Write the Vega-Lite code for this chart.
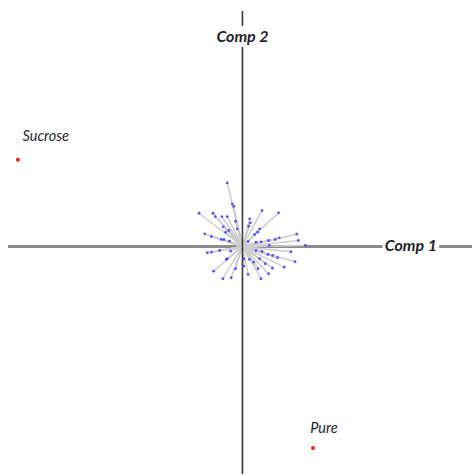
{
  "$schema": "https://vega.github.io/schema/vega-lite/v6.json",
  "width": 474,
  "height": 475,
  "autosize": {"type": "fit", "contains": "padding"},
  "padding": 0,
  "background": "white",
  "config": {"view": {"stroke": null}},
  "datasets": {
    "vars": [
      {"x": -0.153, "y": 0.637}, {"x": -0.103, "y": 0.427}, {"x": -0.087, "y": 0.403},
      {"x": -0.437, "y": 0.333}, {"x": -0.297, "y": 0.333}, {"x": -0.273, "y": 0.30},
      {"x": -0.207, "y": 0.30}, {"x": -0.153, "y": 0.30}, {"x": -0.07, "y": 0.253},
      {"x": -0.053, "y": 0.177}, {"x": -0.193, "y": 0.197}, {"x": -0.17, "y": 0.143},
      {"x": -0.137, "y": 0.16}, {"x": -0.38, "y": 0.127}, {"x": -0.313, "y": 0.10},
      {"x": -0.213, "y": 0.07}, {"x": -0.187, "y": 0.07}, {"x": -0.13, "y": 0.053},
      {"x": 0.073, "y": 0.277}, {"x": 0.08, "y": 0.237}, {"x": 0.197, "y": 0.36},
      {"x": 0.363, "y": 0.337}, {"x": 0.173, "y": 0.177}, {"x": 0.153, "y": 0.143},
      {"x": 0.123, "y": 0.12}, {"x": 0.063, "y": 0.203}, {"x": 0.547, "y": 0.123},
      {"x": 0.563, "y": 0.06}, {"x": 0.633, "y": 0.01}, {"x": 0.37, "y": 0.087},
      {"x": 0.33, "y": 0.07}, {"x": 0.263, "y": 0.06}, {"x": 0.187, "y": 0.047},
      {"x": 0.137, "y": 0.043}, {"x": 0.057, "y": 0.05}, {"x": 0.487, "y": -0.053},
      {"x": 0.27, "y": 0.01}, {"x": 0.137, "y": -0.04}, {"x": 0.197, "y": -0.05},
      {"x": 0.257, "y": -0.08}, {"x": 0.303, "y": -0.09}, {"x": 0.353, "y": -0.113},
      {"x": 0.53, "y": -0.153}, {"x": 0.42, "y": -0.207}, {"x": 0.303, "y": -0.217},
      {"x": 0.23, "y": -0.173}, {"x": 0.173, "y": -0.123}, {"x": 0.113, "y": -0.157},
      {"x": 0.157, "y": -0.223}, {"x": 0.263, "y": -0.273}, {"x": 0.187, "y": -0.323},
      {"x": 0.057, "y": -0.28}, {"x": 0.013, "y": -0.123}, {"x": 0.013, "y": -0.197},
      {"x": -0.07, "y": -0.223}, {"x": -0.113, "y": -0.313}, {"x": -0.197, "y": -0.323},
      {"x": -0.29, "y": -0.247}, {"x": -0.153, "y": -0.123}, {"x": -0.163, "y": -0.13},
      {"x": -0.353, "y": -0.063}, {"x": -0.31, "y": -0.057}, {"x": -0.23, "y": -0.04},
      {"x": -0.12, "y": -0.047}, {"x": 0.07, "y": -0.13}
    ],
    "samples": [
      {"name": "Sucrose", "x": -2.26, "y": 0.87, "lx": -1.98, "ly": 1.10},
      {"name": "Pure", "x": 0.71, "y": -2.02, "lx": 0.82, "ly": -1.83}
    ],
    "axes": [
      {"dir": "h", "x": -2.36, "y": 0, "x2": 1.41, "y2": 0},
      {"dir": "h", "x": 1.98, "y": 0, "x2": 2.31, "y2": 0},
      {"dir": "v", "x": 0, "y": 2.36, "x2": 0, "y2": 2.21},
      {"dir": "v", "x": 0, "y": 2.00, "x2": 0, "y2": -2.28}
    ],
    "axislabels": [
      {"label": "Comp 2", "x": 0, "y": 2.10},
      {"label": "Comp 1", "x": 1.695, "y": 0}
    ]
  },
  "encoding": {
    "x": {"type": "quantitative", "scale": {"domain": [-2.44, 2.30], "nice": false, "zero": false}, "axis": null},
    "y": {"type": "quantitative", "scale": {"domain": [-2.28, 2.47], "nice": false, "zero": false}, "axis": null}
  },
  "layer": [
    {
      "data": {"name": "axes"},
      "transform": [{"filter": "datum.dir === 'h'"}],
      "mark": {"type": "rule", "color": "#8c8c8c", "strokeWidth": 3},
      "encoding": {
        "x": {"field": "x", "type": "quantitative"},
        "y": {"field": "y", "type": "quantitative"},
        "x2": {"field": "x2"},
        "y2": {"field": "y2"}
      }
    },
    {
      "data": {"name": "vars"},
      "mark": {"type": "rule", "color": "#cdcdcd", "strokeWidth": 1.5},
      "encoding": {
        "x": {"field": "x", "type": "quantitative"},
        "y": {"field": "y", "type": "quantitative"},
        "x2": {"datum": 0},
        "y2": {"datum": 0}
      }
    },
    {
      "data": {"name": "axes"},
      "transform": [{"filter": "datum.dir === 'v'"}],
      "mark": {"type": "rule", "color": "#3a3a3a", "strokeWidth": 1.6},
      "encoding": {
        "x": {"field": "x", "type": "quantitative"},
        "y": {"field": "y", "type": "quantitative"},
        "x2": {"field": "x2"},
        "y2": {"field": "y2"}
      }
    },
    {
      "data": {"name": "vars"},
      "mark": {"type": "point", "filled": true, "color": "#4646ff", "size": 8, "opacity": 0.9},
      "encoding": {
        "x": {"field": "x", "type": "quantitative"},
        "y": {"field": "y", "type": "quantitative"}
      }
    },
    {
      "data": {"name": "samples"},
      "mark": {"type": "point", "filled": true, "color": "#ff1a1a", "size": 16, "opacity": 1},
      "encoding": {
        "x": {"field": "x", "type": "quantitative"},
        "y": {"field": "y", "type": "quantitative"}
      }
    },
    {
      "data": {"name": "samples"},
      "mark": {"type": "text", "font": "Lato", "fontStyle": "italic", "fontSize": 14.5, "color": "#1f1f2f"},
      "encoding": {
        "x": {"field": "lx", "type": "quantitative"},
        "y": {"field": "ly", "type": "quantitative"},
        "text": {"field": "name"}
      }
    },
    {
      "data": {"name": "axislabels"},
      "mark": {"type": "text", "font": "Lato", "fontStyle": "italic", "fontWeight": "bold", "fontSize": 16, "color": "#1f1f2f"},
      "encoding": {
        "x": {"field": "x", "type": "quantitative"},
        "y": {"field": "y", "type": "quantitative"},
        "text": {"field": "label"}
      }
    }
  ]
}
